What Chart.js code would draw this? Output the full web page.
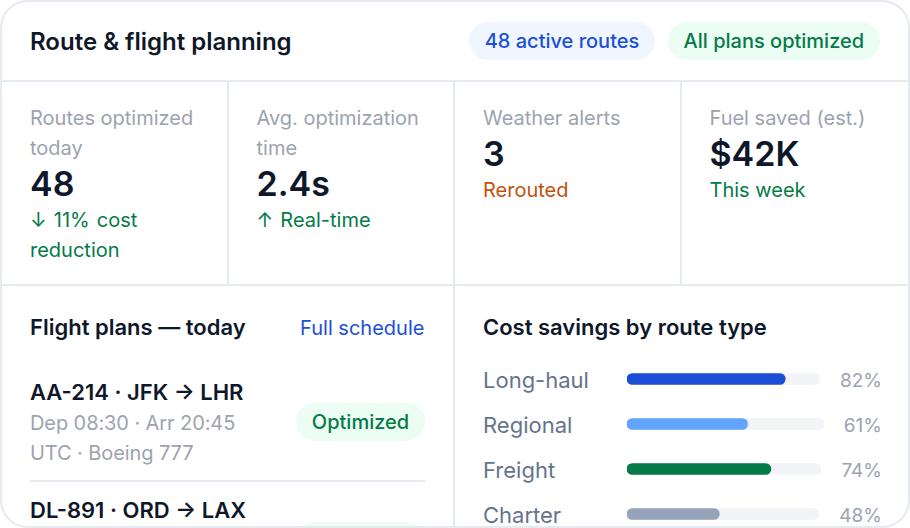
<!DOCTYPE html>
<html><head><meta charset="utf-8">
<script src="https://cdn.jsdelivr.net/npm/chart.js@4"></script>
<style>
*{box-sizing:border-box;margin:0;padding:0}
html,body{width:910px;height:528px;overflow:hidden;background:#fff;font-family:Inter,sans-serif}
.card{position:relative;width:910px;height:528px;border:2px solid #e5e9f0;border-radius:28px;overflow:hidden;background:#fff;color:#0f172a}
.head{position:absolute;left:0;top:0;width:100%;height:80px;border-bottom:2px solid #e5e9f0}
.title{position:absolute;left:28px;top:24.5px;font-size:24px;line-height:30px;font-weight:600}
.pill{position:absolute;height:38px;border-radius:19px;font-size:20px;line-height:38px;font-weight:500;text-align:center;white-space:nowrap}
.blue{background:#eff6ff;color:#1d4ed8}.green{background:#ecfdf3;color:#047a48}
.kpis{position:absolute;left:0;top:80px;width:100%;height:204px;border-bottom:2px solid #e5e9f0;display:flex}
.kpi{height:100%;padding:21px 28px 0;border-right:2px solid #e5e9f0;width:226.5px;flex:none}
.kpi:last-child{border-right:0}
.k-l{font-size:20px;line-height:30px;color:#9ca3af}
.k-v{font-size:34px;line-height:40.8px;font-weight:600;position:relative;top:1px}
.k-s{font-size:20px;line-height:30px;margin-top:1.5px}
.k-s.arrow{word-spacing:1.5px}
.panel{position:absolute;top:284px;height:243px}
.h2{font-size:22px;line-height:30px;font-weight:600}
.link{position:absolute;right:28.6px;top:26.5px;font-size:20px;line-height:30px;color:#1d4ed8;white-space:nowrap}
.fl{position:absolute;left:28px;width:395px}
.fl b{display:block;font-size:22px;line-height:31.6px;font-weight:600}
.fl span{display:block;font-size:20px;line-height:30px;color:#9ca3af;letter-spacing:-.09px}
.badge{position:absolute;left:294px;height:38px;width:129px;border-radius:19px;background:#ecfdf3;color:#047a48;font-size:20px;line-height:38px;font-weight:500;text-align:center}
.row{position:absolute;left:481px;width:399px;height:30px;display:flex;align-items:center}
.row .n{width:144px;flex:none;font-size:22px;line-height:30px;color:#64748b}
.row .t{flex:1;height:16px;min-width:0;position:relative;top:-1px}
.row .p{flex:none;margin-left:20px;font-size:19px;line-height:30px;color:#9ca3af;position:relative;top:1px}
canvas{display:block}
</style></head><body>
<div class="card">
 <div class="head">
  <div class="title">Route &amp; flight planning</div>
  <div class="pill blue" style="left:467px;top:20px;width:186px">48 active routes</div>
  <div class="pill green" style="left:665.7px;top:20px;width:212.3px">All plans optimized</div>
 </div>
 <div class="kpis" id="kpis"></div>
 <div class="panel" style="left:0;width:453px;border-right:2px solid #e5e9f0">
  <div class="h2" style="position:absolute;left:28px;top:26px">Flight plans — today</div>
  <div class="link">Full schedule</div>
 </div>
 <div class="fl" style="top:374.7px;height:105.3px;border-bottom:2px solid #e5e9f0"><b>AA-214 · JFK → LHR</b><span>Dep 08:30 · Arr 20:45</span><span>UTC · Boeing 777</span></div>
 <div class="badge" style="top:400.5px">Optimized</div>
 <div class="fl" style="top:493px"><b>DL-891 · ORD → LAX</b></div>
 <div class="badge" style="top:519.5px"></div>
 <div class="h2" style="position:absolute;left:481px;top:310px">Cost savings by route type</div>
 <div id="rows"></div>
</div>
<script>
const kpiLabels=['Routes optimized today','Avg. optimization time','Weather alerts','Fuel saved (est.)'];
const kpiValues=['48','2.4s','3','$42K'];
const kpiNotes=['↓ 11% cost reduction','↑ Real-time','Rerouted','This week'];
const kpiNoteColors=['#047a48','#047a48','#c2510c','#047a48'];
const routeTypes=['Long-haul','Regional','Freight','Charter'];
const savings=[82,61,74,48];
const barColors=['#1d4ed8','#60a5fa','#047a48','#94a3b8'];
const trackColor='#f3f4f8';

document.getElementById('kpis').innerHTML=kpiLabels.map((l,i)=>
 `<div class="kpi"><div class="k-l">${l}</div><div class="k-v">${kpiValues[i]}</div><div class="k-s${/^[↓↑]/.test(kpiNotes[i])?' arrow':''}" style="color:${kpiNoteColors[i]}">${kpiNotes[i]}</div></div>`).join('');

const rows=document.getElementById('rows');
routeTypes.forEach((name,i)=>{
 const r=document.createElement('div');r.className='row';r.style.top=(363+45*i)+'px';
 r.innerHTML=`<div class="n">${name}</div><div class="t"><canvas></canvas></div><div class="p">${savings[i]}%</div>`;
 rows.appendChild(r);
 new Chart(r.querySelector('canvas'),{type:'bar',
  data:{labels:[name],datasets:[
   {data:[savings[i]],backgroundColor:barColors[i],grouped:false,borderRadius:5.5,borderSkipped:false,barThickness:11},
   {data:[100],backgroundColor:trackColor,grouped:false,borderRadius:5.5,borderSkipped:false,barThickness:11}]},
  options:{indexAxis:'y',responsive:true,maintainAspectRatio:false,animation:false,
   layout:{padding:0},
   plugins:{legend:{display:false},tooltip:{enabled:false}},
   scales:{x:{display:false,min:0,max:100},y:{display:false}}}});
});
</script>
</body></html>
